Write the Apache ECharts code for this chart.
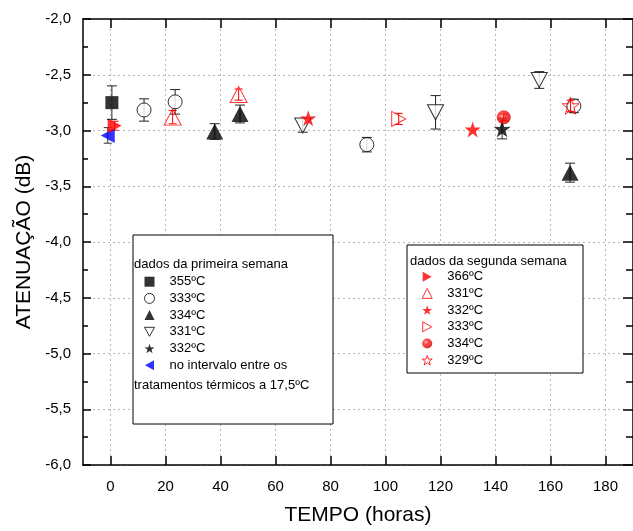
<!DOCTYPE html>
<html><head><meta charset="utf-8">
<script src="https://cdn.jsdelivr.net/npm/echarts@6/dist/echarts.min.js"></script>
<style>html,body{margin:0;padding:0;background:#fff}#c{width:633px;height:531px}</style>
</head><body><div id="c"></div>
<script>
// ---- tick labels ----
const xTickValues = [0, 20, 40, 60, 80, 100, 120, 140, 160, 180];

// ---- first week (black) ----
const sq355X = [0.5],  sq355Y = [-2.75], sq355E = [0.15];
const ci333X = [12.2, 23.5, 93.2, 168.5], ci333Y = [-2.816, -2.743, -3.127, -2.78], ci333E = [0.1, 0.11, 0.065, 0.06];
const tu334X = [37.9, 47.1, 167.1], tu334Y = [-3.009, -2.852, -3.378], tu334E = [0.07, 0.08, 0.085];
const td331X = [69.9, 118.2, 155.9], td331Y = [-2.955, -2.837, -2.547], td331E = [0.06, 0.15, 0.075];
const st332X = [142.4], st332Y = [-2.985], st332E = [0.09];
const blueX = [-1.0], blueY = [-3.044], blueE = [0.07];

// ---- second week (red) ----
const rt366X = [1.5], rt366Y = [-2.957], rt366E = [0.04];
const ou331X = [22.6, 46.6], ou331Y = [-2.88, -2.678], ou331E = [0.06, 0.05];
const fs332X = [71.9, 131.7], fs332Y = [-2.89, -2.99];
const or333X = [104.8], or333Y = [-2.896], or333E = [0.05];
const sp334X = [143.0], sp334Y = [-2.882], sp334E = [0.03];
const os329X = [167.3], os329Y = [-2.778], os329E = [0.05];

const FONT = 'Liberation Sans, Arial, sans-serif';
const BLUE_NAME = 'no intervalo entre os tratamentos térmicos a 17,5ºC';
const TRI_DOWN = 'path://M0,0L10,0L5,9Z';
const TRI_LEFT = 'path://M0,5L9,0L9,10Z';
const TRI_RIGHT = 'path://M0,0L9,5L0,10Z';
const STAR = 'path://M50,0L61.8,35.1L97.6,34.5L68.8,56.7L79.4,90.5L50,70L20.6,90.5L31.2,56.7L2.4,34.5L38.2,35.1Z';
const CLEAR = 'rgba(0,0,0,0)';

function zip(xs, ys) { return xs.map((x, i) => [x, ys[i]]); }
function sc(name, xs, ys, symbol, size, itemStyle) {
  return { name, type: 'scatter', z: 4, symbol, symbolSize: size, itemStyle, data: zip(xs, ys), emphasis: { disabled: true } };
}
function err(xs, ys, es, color, cap, z) {
  return {
    type: 'custom', z: z || 3, silent: true,
    data: xs.map((x, i) => [x, ys[i], es[i]]),
    encode: { x: 0, y: 1 },
    renderItem(params, api) {
      const x = api.value(0), y = api.value(1), e = api.value(2);
      const t = api.coord([x, y + e]), b = api.coord([x, y - e]);
      const st = { stroke: color, lineWidth: 1, fill: null };
      return { type: 'group', children: [
        { type: 'line', shape: { x1: t[0], y1: t[1], x2: b[0], y2: b[1] }, style: st },
        { type: 'line', shape: { x1: t[0] - cap / 2, y1: t[1], x2: t[0] + cap / 2, y2: t[1] }, style: st },
        { type: 'line', shape: { x1: b[0] - cap / 2, y1: b[1], x2: b[0] + cap / 2, y2: b[1] }, style: st }
      ]};
    }
  };
}

const sphere = { type: 'radial', x: 0.38, y: 0.35, r: 0.65,
  colorStops: [{ offset: 0, color: '#ffb0b0' }, { offset: 0.35, color: '#ff2020' }, { offset: 1, color: '#d00000' }] };

const series = [
  err(sq355X, sq355Y, sq355E, '#222', 10, 5),
  err(ci333X, ci333Y, ci333E, '#222', 10),
  err(tu334X, tu334Y, tu334E, '#222', 10),
  err(td331X, td331Y, td331E, '#222', 10),
  err(st332X, st332Y, st332E, '#222', 10),
  err(blueX, blueY, blueE, '#333', 8),
  err(ou331X, ou331Y, ou331E, '#ff0000', 8, 5),
  err(or333X, or333Y, or333E, '#ff0000', 8, 5),
  err(sp334X, sp334Y, sp334E, '#ff0000', 8, 5),
  err(os329X, os329Y, os329E, '#ff0000', 8, 5),
  err(rt366X, rt366Y, rt366E, '#ff0000', 8),
  sc('355ºC', sq355X, sq355Y, 'rect', 13, { color: '#000' }),
  sc('333ºC', ci333X, ci333Y, 'circle', 14, { color: '#fff', borderColor: '#000', borderWidth: 1 }),
  sc('334ºC', tu334X, tu334Y, 'triangle', [17, 16], { color: '#000' }),
  sc('331ºC', td331X, td331Y, TRI_DOWN, [16, 15], { color: '#fff', borderColor: '#000', borderWidth: 1 }),
  sc('332ºC', st332X, st332Y, STAR, 17, { color: '#000' }),
  sc(BLUE_NAME, blueX, blueY, TRI_LEFT, [14, 15], { color: '#0000ff' }),
  sc('366ºC', rt366X, rt366Y, TRI_RIGHT, [14, 15], { color: '#ff0000' }),
  sc('331ºC (2)', ou331X, ou331Y, 'triangle', [17, 16], { color: CLEAR, borderColor: '#ff0000', borderWidth: 1 }),
  sc('332ºC (2)', fs332X, fs332Y, STAR, 16, { color: '#ff0000' }),
  sc('333ºC (2)', or333X, or333Y, TRI_RIGHT, [14, 15], { color: CLEAR, borderColor: '#ff0000', borderWidth: 1 }),
  sc('334ºC (2)', sp334X, sp334Y, 'circle', 14, { color: sphere }),
  sc('329ºC', os329X, os329Y, STAR, 17, { color: CLEAR, borderColor: '#ff0000', borderWidth: 1 })
];

const firstNames = ['355ºC', '333ºC', '334ºC', '331ºC', '332ºC', BLUE_NAME];
const secondNames = ['366ºC', '331ºC (2)', '332ºC (2)', '333ºC (2)', '334ºC (2)', '329ºC'];
const legFmt = n => n === BLUE_NAME ? 'no intervalo entre os' : n.replace(' (2)', '');
const legBase = {
  orient: 'vertical', selectedMode: false, itemWidth: 10, itemHeight: 10, itemGap: 2.7, z: 6, padding: 0,
  formatter: legFmt,
  itemStyle: { borderWidth: 1 },
  textStyle: { fontFamily: FONT, fontSize: 13, color: '#000', lineHeight: 14, padding: [0, 0, 0, 10] }
};

const axisLineStyle = { color: '#000', width: 1.5 };
const dotted = { show: true, lineStyle: { color: '#b8b8b8', type: [2, 3], width: 1 } };
const xBase = {
  type: 'value', min: -10, max: 190, interval: 20,
  axisLine: { show: true, onZero: false, lineStyle: axisLineStyle },
  axisTick: { show: true, inside: true, length: 9, customValues: xTickValues, lineStyle: { color: '#000', width: 1.5 } },
  minorTick: { show: true, splitNumber: 2, length: 5, lineStyle: { color: '#000', width: 1.5 } },
};
const yBase = {
  type: 'value', min: -6, max: -2, interval: 0.5,
  axisLine: { show: true, onZero: false, lineStyle: axisLineStyle },
  axisTick: { show: true, inside: true, length: 8, lineStyle: { color: '#000', width: 1.5 } },
  minorTick: { show: true, splitNumber: 2, length: 5, lineStyle: { color: '#000', width: 1.5 } },
};

const option = {
  animation: false,
  backgroundColor: '#fff',
  grid: { left: 83, top: 19, right: -8, bottom: 61, containLabel: false },
  xAxis: [
    Object.assign({}, xBase, {
      position: 'bottom',
      name: 'TEMPO (horas)', nameLocation: 'middle', nameGap: 40,
      nameTextStyle: { fontFamily: FONT, fontSize: 21, color: '#000' },
      axisLabel: { show: true, customValues: xTickValues, margin: 14, fontFamily: FONT, fontSize: 15, color: '#000' },
      splitLine: dotted
    }),
    Object.assign({}, xBase, { position: 'top', axisLabel: { show: false }, splitLine: { show: false } })
  ],
  yAxis: [
    Object.assign({}, yBase, {
      position: 'left',
      name: 'ATENUAÇÃO (dB)', nameLocation: 'middle', nameGap: 48,
      nameTextStyle: { fontFamily: FONT, fontSize: 21, color: '#000' },
      axisLabel: { show: true, margin: 12, fontFamily: FONT, fontSize: 15, color: '#000',
        formatter: v => v.toFixed(1).replace('.', ',') },
      splitLine: dotted
    }),
    Object.assign({}, yBase, { position: 'right', axisLabel: { show: false }, splitLine: { show: false },
      axisTick: { show: true, inside: true, length: 10, lineStyle: { color: '#000', width: 1.5 } },
      minorTick: { show: true, splitNumber: 2, length: 7, lineStyle: { color: '#000', width: 1.5 } } })
  ],
  legend: [
    Object.assign({}, legBase, { left: 144, top: 274.7, data: firstNames }),
    Object.assign({}, legBase, { left: 421.7, top: 269.7, data: secondNames })
  ],
  graphic: [
    { type: 'rect', z: 5, shape: { x: 133, y: 235, width: 200, height: 189 }, style: { fill: '#fff', stroke: '#000', lineWidth: 1 } },
    { type: 'rect', z: 5, shape: { x: 407, y: 245, width: 176, height: 128 }, style: { fill: '#fff', stroke: '#000', lineWidth: 1 } },
    { type: 'text', z: 6, x: 134, y: 264, style: { text: 'dados da primeira semana', font: '13px ' + FONT, fill: '#000', verticalAlign: 'middle' } },
    { type: 'text', z: 6, x: 134, y: 385, style: { text: 'tratamentos térmicos a 17,5ºC', font: '13px ' + FONT, fill: '#000', verticalAlign: 'middle' } },
    { type: 'text', z: 6, x: 410, y: 261, style: { text: 'dados da segunda semana', font: '13px ' + FONT, fill: '#000', verticalAlign: 'middle' } }
  ],
  series
};

const chart = echarts.init(document.getElementById('c'), null, { renderer: 'canvas' });
chart.setOption(option);
</script>
</body></html>
